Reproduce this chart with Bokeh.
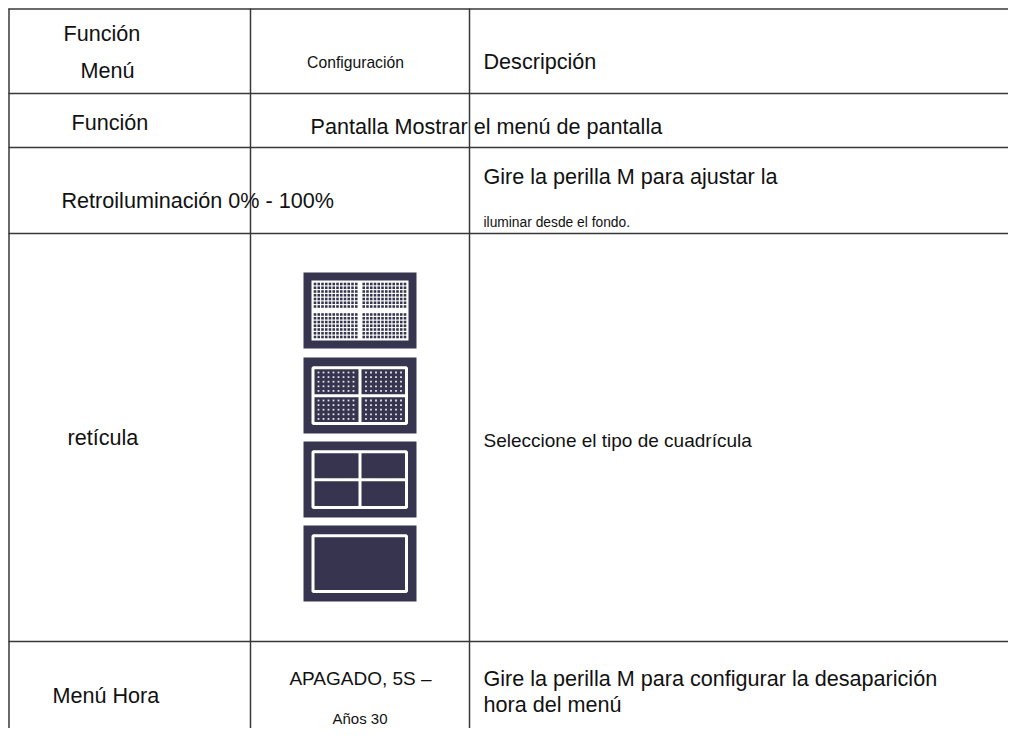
import numpy as np
from bokeh.plotting import figure
from bokeh.models import Range1d, ColumnDataSource
from bokeh.embed import file_html
from bokeh.resources import INLINE
from bokeh.core.properties import value

# ---------------- data (table content) ----------------
header_texts = ["Función", "Menú", "Descripción"]
header_setting = ["Configuración"]
row_function = ["Función", "Pantalla Mostrar el menú de pantalla"]
row_backlight = ["Gire la perilla M para ajustar la", "Retroiluminación 0% - 100%", "iluminar desde el fondo."]
row_grid = ["retícula", "Seleccione el tipo de cuadrícula"]
grid_types = ["fine", "dotted", "quad", "frame"]
row_menu_time = ["Menú Hora", "Gire la perilla M para configurar la desaparición", "hora del menú"]
row_menu_setting = ["APAGADO, 5S –", "Años 30"]

# ---------------- layout ----------------
W, H = 1008, 728
FONT = "Liberation Sans"
LINE = "#383838"
NAVY = "#36344e"

col_lines = [8.5, 250, 469]
row_lines = [8.5, 93, 147, 233, 641]

left_texts = header_texts + row_function + row_backlight + row_grid + row_menu_time
left_pos = [  # x, y, size
    (63, 33, 21.6), (80, 70, 21.6), (483, 61, 21.6),
    (71, 122, 21.6), (310, 126, 21.6),
    (483, 176, 21.6), (61, 200, 21.6), (483, 222, 13.8),
    (67, 437, 21.6), (483, 440, 19),
    (52, 695, 21.6), (483, 678, 21.6), (483, 704, 21.6),
]
center_texts = header_setting + row_menu_setting
center_pos = [(355, 62, 15.7), (360, 678, 19), (359.5, 718, 15)]

icon_tops = [272, 357, 441, 525]
IX0, IX1, IH = 303, 416, 76

p = figure(width=W, height=H, output_backend="svg", toolbar_location=None,
           x_range=Range1d(0, W), y_range=Range1d(H, 0),
           min_border=0, outline_line_color=None, background_fill_color="white",
           border_fill_color="white")
p.axis.visible = False
p.grid.visible = False

# table lines
p.segment(x0=[8] * len(row_lines), x1=[W] * len(row_lines), y0=row_lines, y1=row_lines,
          line_color=LINE, line_width=1.5)
p.segment(x0=col_lines, x1=col_lines, y0=[8] * 3, y1=[H] * 3, line_color=LINE, line_width=1.5)

# grid icons
cx = (IX0 + IX1) / 2
for kind, top in zip(grid_types, icon_tops):
    p.quad(left=[IX0], right=[IX1], top=[top], bottom=[top + IH], fill_color=NAVY, line_color=None)
    if kind == "fine":
        p.quad(left=[311], right=[408], top=[top + 8], bottom=[top + 68], fill_color="white", line_color=None)
        xs = np.concatenate([314.5 + 3.75 * np.arange(12), 363.25 + 3.75 * np.arange(12)])
        ys = np.concatenate([top + 11.5 + 3.75 * np.arange(7), top + 42 + 3.75 * np.arange(7)])
        gx, gy = np.meshgrid(xs, ys)
        p.rect(x=gx.ravel(), y=gy.ravel(), width=2.6, height=2.6, fill_color=NAVY, line_color=None)
    else:
        p.quad(left=[312.5], right=[406], top=[top + 10.3], bottom=[top + 66], fill_color=None,
               line_color="white", line_width=3)
        if kind in ("dotted", "quad"):
            p.segment(x0=[cx, 312.5], x1=[cx, 406], y0=[top + 10.3, top + 38.3], y1=[top + 66, top + 38.3],
                      line_color="white", line_width=3)
        if kind == "dotted":
            xs = np.concatenate([318 + 5 * np.arange(8), 365.5 + 5 * np.arange(8)])
            ys = np.concatenate([top + 15 + 4.6 * np.arange(5), top + 43 + 4.6 * np.arange(5)])
            gx, gy = np.meshgrid(xs, ys)
            p.rect(x=gx.ravel(), y=gy.ravel(), width=1.8, height=1.8, fill_color="#e6e6ee", line_color=None)

# texts
ls = ColumnDataSource(dict(x=[q[0] for q in left_pos], y=[q[1] for q in left_pos],
                           t=left_texts, s=["%spx" % q[2] for q in left_pos]))
p.text(x="x", y="y", text="t", source=ls, text_font=value(FONT), text_font_size="s",
       text_align="left", text_baseline="middle", text_color="#111111")
cs = ColumnDataSource(dict(x=[q[0] for q in center_pos], y=[q[1] for q in center_pos],
                           t=center_texts, s=["%spx" % q[2] for q in center_pos]))
p.text(x="x", y="y", text="t", source=cs, text_font=value(FONT), text_font_size="s",
       text_align="center", text_baseline="middle", text_color="#111111")

open("out.html", "w").write(file_html(p, INLINE))
